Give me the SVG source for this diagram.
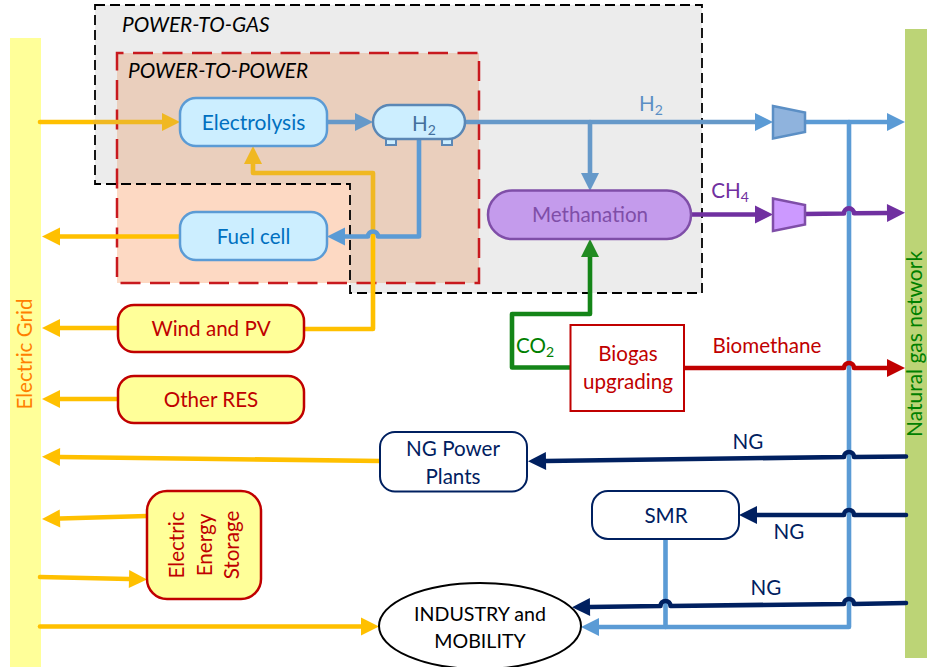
<svg xmlns="http://www.w3.org/2000/svg" width="927" height="667" viewBox="0 0 927 667">
<style>
text{font-family:"Lato","Carlito","Open Sans",sans-serif;font-size:20.600px;text-anchor:middle}
.t{font-style:italic;text-anchor:start;fill:#000;font-size:20.800px}
.c{fill:none;stroke-width:4.600;stroke-linejoin:round;stroke-linecap:round}
.y{stroke:#ffc000}.m{stroke:#f0b822}.b{stroke:#5b9bd5}.g{stroke:#6699c9}.p{stroke:#7030a0}.r{stroke:#c00000}.n{stroke:#002060}.e{stroke:#148518}
.lb{fill:#cceeff;stroke:#5b9bd5;stroke-width:2.5}
.ry{fill:#ffff99;stroke:#c00000;stroke-width:2.5}
.nv{fill:#fff;stroke:#002060;stroke-width:2}
.rt{fill:#c00000}.nt{fill:#002060}.bt{fill:#0070c0}
</style>
<defs>
<marker id="ay" markerUnits="userSpaceOnUse" markerWidth="18" markerHeight="18" refX="0" refY="9" orient="auto" overflow="visible"><path d="M0,0L18,9L0,18Z" fill="#ffc000"/></marker>
<marker id="am" markerUnits="userSpaceOnUse" markerWidth="18" markerHeight="18" refX="0" refY="9" orient="auto" overflow="visible"><path d="M0,0L18,9L0,18Z" fill="#f0b822"/></marker>
<marker id="ab" markerUnits="userSpaceOnUse" markerWidth="18" markerHeight="18" refX="0" refY="9" orient="auto" overflow="visible"><path d="M0,0L18,9L0,18Z" fill="#5b9bd5"/></marker>
<marker id="ag" markerUnits="userSpaceOnUse" markerWidth="18" markerHeight="18" refX="0" refY="9" orient="auto" overflow="visible"><path d="M0,0L18,9L0,18Z" fill="#6699c9"/></marker>
<marker id="ap" markerUnits="userSpaceOnUse" markerWidth="18" markerHeight="18" refX="0" refY="9" orient="auto" overflow="visible"><path d="M0,0L18,9L0,18Z" fill="#7030a0"/></marker>
<marker id="ar" markerUnits="userSpaceOnUse" markerWidth="18" markerHeight="18" refX="0" refY="9" orient="auto" overflow="visible"><path d="M0,0L18,9L0,18Z" fill="#c00000"/></marker>
<marker id="an" markerUnits="userSpaceOnUse" markerWidth="18" markerHeight="18" refX="0" refY="9" orient="auto" overflow="visible"><path d="M0,0L18,9L0,18Z" fill="#002060"/></marker>
<marker id="ae" markerUnits="userSpaceOnUse" markerWidth="18" markerHeight="18" refX="0" refY="9" orient="auto" overflow="visible"><path d="M0,0L18,9L0,18Z" fill="#228b22"/></marker>
</defs>
<rect width="927" height="667" fill="#fff"/>
<g id="electric-grid"><rect x="10" y="38" width="31" height="629" fill="#ffff99"/><text transform="translate(32,354) rotate(-90)" fill="#ff8000">Electric Grid</text></g>
<g id="gas-network"><rect x="905" y="29" width="22" height="629" fill="#bcd476"/><text transform="translate(921.500,344) rotate(-90)" fill="#008000" style="font-size:21px">Natural gas network</text></g>
<g id="zones">
<path d="M95,5H702V293H350V184H95Z" fill="#ececec"/>
<rect x="117" y="53" width="362" height="230" fill="#fdd9c3"/>
<path d="M117,53H479V283H350V184H117Z" fill="#eacfbd"/>
<rect x="117" y="53" width="362" height="230" fill="none" stroke="#c8191e" stroke-width="2.5" stroke-dasharray="20,9.5" stroke-dashoffset="13.5"/>
<path d="M95,5H702V293H350V184H95Z" fill="none" stroke="#000" stroke-width="1.8" stroke-dasharray="10,5"/>
<text class="t" x="122" y="32">POWER-TO-GAS</text>
<text class="t" x="128" y="78">POWER-TO-POWER</text>
</g>
<g id="connectors">
<path class="c y" d="M40,122H95"/><path class="c m" d="M95,122H162" marker-end="url(#am)"/>
<path class="c g" d="M327,122H355" marker-end="url(#ag)"/>
<path class="c g" d="M465,122H755" marker-end="url(#ab)"/>
<path class="c g" d="M590,122V173" marker-end="url(#ag)"/>
<path class="c b" d="M805,122H887" marker-end="url(#ab)"/>
<path class="c b" d="M849,122V627H599" marker-end="url(#ab)"/>
<path class="c b" d="M665.500,538V627"/>
<path class="c y" d="M304,329H373V232"/><path class="c m" d="M373,232V173H253V164" marker-end="url(#am)"/>
<path class="c b" d="M419,139V236.500H378A5,5 0 0 0 368,236.500H345" marker-end="url(#ab)"/>
<path class="c y" d="M180,236.500H60" marker-end="url(#ay)"/>
<path class="c y" d="M118,328H60" marker-end="url(#ay)"/>
<path class="c y" d="M118,399H60" marker-end="url(#ay)"/>
<path class="c y" d="M380,461L60,457" marker-end="url(#ay)"/>
<path class="c y" d="M147,516L60,518.500" marker-end="url(#ay)"/>
<path class="c y" d="M40,577L129,579" marker-end="url(#ay)"/>
<path class="c y" d="M40,626.500H361" marker-end="url(#ay)"/>
<path class="c p" d="M691,214.500H755" marker-end="url(#ap)"/>
<path class="c p" d="M805,214L844,213.500A5,5 0 0 1 854,213.300L887,213" marker-end="url(#ap)"/>
<path class="c e" d="M570,367.500H512V314H590V257" marker-end="url(#ae)"/>
<path class="c r" d="M684,368H844A5,5 0 0 1 854,368H887" marker-end="url(#ar)"/>
<path class="c n" d="M906,456.500L854,457A5,5 0 0 0 844,457L546,461" marker-end="url(#an)"/>
<path class="c n" d="M906,515H854A5,5 0 0 0 844,515H757" marker-end="url(#an)"/>
<path class="c n" d="M906,603L854,604A5,5 0 0 0 844,604L670.500,606A5,5 0 0 0 660.500,606L590,607" marker-end="url(#an)"/>
</g>
<g id="electrolysis"><rect class="lb" x="180" y="98" width="147" height="48" rx="16"/><text class="bt" x="253.500" y="130" style="font-size:21px">Electrolysis</text></g>
<g id="fuel-cell"><rect class="lb" x="180" y="212" width="147" height="48" rx="16"/><text class="bt" x="253.500" y="244">Fuel cell</text></g>
<g id="h2-tank"><rect x="386" y="139" width="10" height="6" fill="#cceeff" stroke="#5b87b5" stroke-width="2"/><rect x="442" y="139" width="10" height="6" fill="#cceeff" stroke="#5b87b5" stroke-width="2"/><rect x="373" y="105" width="92" height="34" rx="17" fill="#cceeff" stroke="#5b87b5" stroke-width="2.500"/><text x="424" y="131" fill="#44709d">H<tspan font-size="14" dy="4">2</tspan></text></g>
<g id="methanation"><rect x="488" y="190.500" width="203" height="48.500" rx="24" fill="#c49bec" stroke="#7f4ea8" stroke-width="2.500"/><text x="590" y="222" fill="#7f4ea8">Methanation</text></g>
<g id="compressor-h2"><path d="M773,106L805,112.500V132L773,138.500Z" fill="#8fb3dd" stroke="#5b8fc5" stroke-width="2.500"/></g>
<g id="compressor-ch4"><path d="M773,198.500L805,205V224.500L773,231Z" fill="#cc99ff" stroke="#7f4ea8" stroke-width="2.500"/></g>
<g id="biogas"><rect x="570.500" y="325" width="113.500" height="86" fill="#fff" stroke="#c00000" stroke-width="2"/><text class="rt" x="628" y="361">Biogas</text><text class="rt" x="628" y="389">upgrading</text></g>
<g id="wind-pv"><rect class="ry" x="118" y="305" width="186" height="47" rx="16"/><text class="rt" x="211" y="336">Wind and PV</text></g>
<g id="other-res"><rect class="ry" x="118" y="376" width="186" height="47" rx="16"/><text class="rt" x="211" y="407">Other RES</text></g>
<g id="ng-power"><rect class="nv" x="380" y="432" width="147" height="59.500" rx="15"/><text class="nt" x="453" y="456">NG Power</text><text class="nt" x="453" y="484">Plants</text></g>
<g id="smr"><rect class="nv" x="592" y="491" width="147" height="48" rx="16"/><text class="nt" x="666" y="523">SMR</text></g>
<g id="ees"><rect class="ry" x="147" y="491" width="114" height="108" rx="20"/><text class="rt" transform="translate(184,545) rotate(-90)">Electric</text><text class="rt" transform="translate(212,545) rotate(-90)">Energy</text><text class="rt" transform="translate(239,545) rotate(-90)">Storage</text></g>
<g id="industry"><ellipse cx="480" cy="626" rx="101" ry="43" fill="#fff" stroke="#000" stroke-width="2"/><text x="480" y="621" fill="#000" style="font-size:19.600px">INDUSTRY and</text><text x="480" y="648" fill="#000" style="font-size:19.600px">MOBILITY</text></g>
<g id="labels">
<text x="651" y="111" fill="#5b8fc5">H<tspan font-size="14" dy="4">2</tspan></text>
<text x="730" y="198" fill="#7030a0">CH<tspan font-size="14" dy="4">4</tspan></text>
<text x="535" y="353" fill="#008000">CO<tspan font-size="14" dy="4">2</tspan></text>
<text class="rt" x="767" y="353">Biomethane</text>
<text class="nt" x="748" y="449">NG</text>
<text class="nt" x="789" y="539">NG</text>
<text class="nt" x="766" y="595">NG</text>
</g>
</svg>
